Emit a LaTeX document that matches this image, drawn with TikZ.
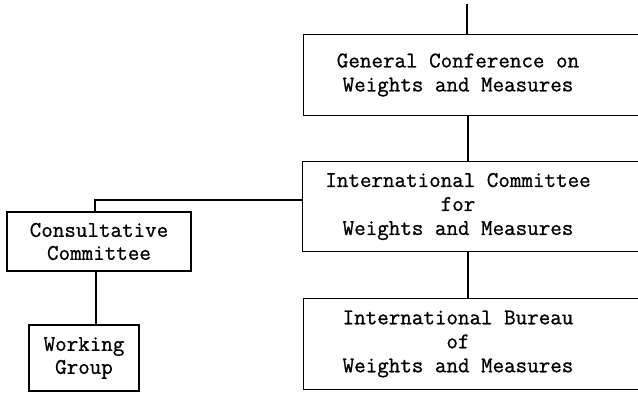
\documentclass[tikz,border=0pt]{standalone}
\usepackage{fontspec}
\newfontfamily\twfont{Latin Modern Mono}[FakeBold=0.9]
\begin{document}
\begin{tikzpicture}[x=1pt,y=-1pt,
  boxtext/.style={font=\twfont\fontsize{22.4}{24}\selectfont, align=center, inner sep=0pt},
  openbox/.style={line width=1.3pt},
  link/.style={line width=1.1pt},
  closedbox/.style={draw, line width=1.3pt, font=\twfont\fontsize{22.4}{23}\selectfont, align=center, inner sep=0pt}]
\useasboundingbox (0,0) rectangle (638,394);
\clip (0,0) rectangle (638,394);
% open boxes on the right side
\node[boxtext, minimum width=308pt, minimum height=80pt] (gc) at (458,75)
  {General Conference on\\Weights and Measures};
\node[boxtext, minimum width=310pt, minimum height=89pt] (icwm) at (458,206.5)
  {International Committee\\for\\Weights and Measures};
\node[boxtext, minimum width=308pt, minimum height=90pt] (ibwm) at (458,344)
  {International Bureau\\of\\Weights and Measures};
\coordinate (edge) at (645,0);
\foreach \n in {gc,icwm,ibwm}{
  \draw[openbox] (\n.north west -| edge) -- (\n.north west) -- (\n.south west) -- (\n.south west -| edge);
}
% closed boxes on the left
\node[closedbox, minimum width=184pt, minimum height=59pt] (cc) at (99,241.5)
  {Consultative\\Committee};
\node[closedbox, minimum width=110pt, minimum height=66pt] (wg) at (84,358)
  {Working\\Group};
% connectors
\coordinate (topend) at (467,4);
\draw[link] (topend) -- (topend |- gc.north);
\draw[link] ([xshift=10pt]gc.south) -- ([xshift=10pt]gc.south |- icwm.north);
\draw[link] ([xshift=10pt]icwm.south) -- ([xshift=10pt]icwm.south |- ibwm.north);
\draw[link] ([yshift=6.5pt]icwm.west) -| ([xshift=-4pt]cc.north);
\draw[link] ([xshift=-3pt]cc.south) -- ([xshift=-3pt]cc.south |- wg.north);
\end{tikzpicture}
\end{document}
